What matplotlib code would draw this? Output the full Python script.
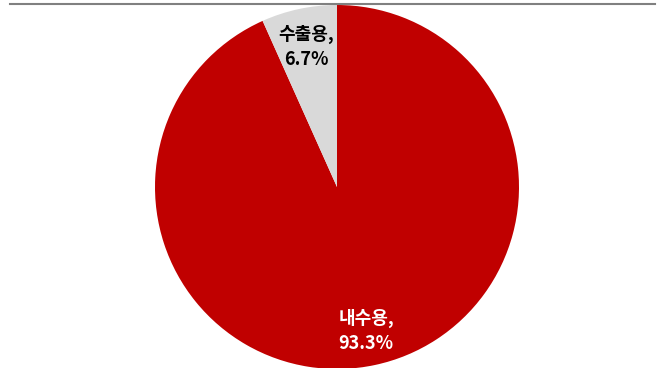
import matplotlib
matplotlib.use("Agg")
import matplotlib.pyplot as plt
from matplotlib.lines import Line2D

plt.rcParams["font.family"] = ["Noto Sans CJK KR", "DejaVu Sans"]

# 용도별 비중 (%)
labels = ["내수용", "수출용"]
shares = [93.3, 6.7]
colors = ["#C00000", "#D9D9D9"]
text_colors = ["white", "black"]
label_pos = [(0.16, -0.79), (-0.17, 0.77)]

W, H = 667, 368
fig = plt.figure(figsize=(W / 100, H / 100), dpi=100)

# 원 중심 (337, 187) px, 반지름 182 px
cx, cy, r = 337, 187, 182
ax = fig.add_axes([(cx - r) / W, (H - cy - r) / H, 2 * r / W, 2 * r / H])
ax.pie(shares, colors=colors, startangle=90, counterclock=False,
       radius=1, wedgeprops={"linewidth": 0})
ax.set_xlim(-1, 1); ax.set_ylim(-1, 1)
ax.set_aspect("equal")
ax.axis("off")

for lab, v, tc, (x, y) in zip(labels, shares, text_colors, label_pos):
    ax.text(x, y, f"{lab},\n{v:.1f}%", ha="center", va="center",
            color=tc, fontsize=13, fontweight="bold", linespacing=1.4)

# 상단 구분선
fig.add_artist(Line2D([10 / W, 655 / W], [1 - 4 / H, 1 - 4 / H],
                      color="#808080", lw=1.5))

fig.savefig("out.png", dpi=100)
